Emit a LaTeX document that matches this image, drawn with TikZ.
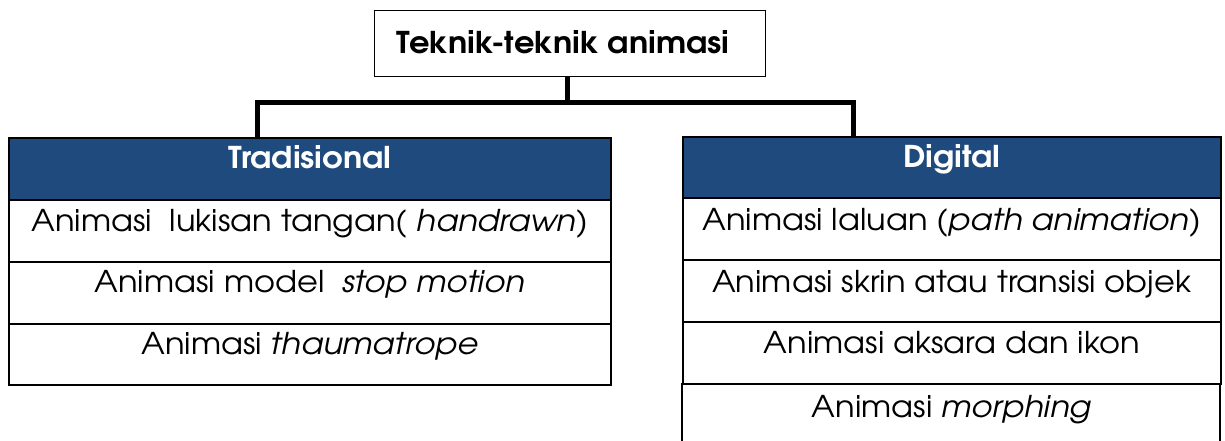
\documentclass[tikz,border=0pt]{standalone}
\usepackage{fontspec}
\setmainfont[FakeStretch=1.07]{TeX Gyre Adventor}
\definecolor{hdrblue}{HTML}{1F4A7D}
\begin{document}
\begin{tikzpicture}[x=1pt,y=-1pt,
  cell/.style={draw=black, line width=1.6pt, inner sep=0pt, anchor=north west},
  hdr/.style={cell, fill=hdrblue},
  hdrtxt/.style={text=white, font=\bfseries\fontsize{30}{30}\selectfont, anchor=base, inner sep=0pt},
  txt/.style={font=\fontsize{30}{30}\selectfont, anchor=base, inner sep=0pt},
  conn/.style={line width=5pt, draw=black}]
\useasboundingbox (0,0) rectangle (1225,441);
\fill[white] (0,0) rectangle (1225,441);
% top box
\node[draw=black, line width=1pt, minimum width=391pt, minimum height=66pt, inner sep=0pt, anchor=north west] (top) at (374,10) {};
\node[font=\bfseries\fontsize{30}{30}\selectfont, anchor=base, inner sep=0pt] (title) at (563,54) {Teknik-teknik animasi};
% left table
\node[hdr, minimum width=602pt, minimum height=62pt] (th) at (8,137) {};
\node[hdrtxt] (tht) at ([yshift=-31pt]th.north) {Tradisional};
\node[cell, minimum width=602pt, minimum height=62pt] (t1) at (8,199) {};
\node[cell, minimum width=602pt, minimum height=62pt] (t2) at (8,261) {};
\node[cell, minimum width=602pt, minimum height=61pt] (t3) at (8,323) {};
\node[txt] (t1t) at ([yshift=-32pt]t1.north) {Animasi\ \ lukisan tangan( \textit{handrawn)}};
\node[txt] (t2t) at ([yshift=-31pt]t2.north) {Animasi model\ \ \textit{stop motion}};
\node[txt] (t3t) at ([yshift=-31pt]t3.north) {Animasi \textit{thaumatrope}};
% right table
\node[hdr, minimum width=538pt, minimum height=61pt] (dh) at (682,136) {};
\node[hdrtxt] (dht) at ([yshift=-31pt]dh.north) {Digital};
\node[cell, minimum width=538pt, minimum height=62pt] (d1) at (682,197) {};
\node[cell, minimum width=538pt, minimum height=62pt] (d2) at (682,259) {};
\node[cell, minimum width=538pt, minimum height=62pt] (d3) at (682,321) {};
\coordinate (d4nw) at (682,383);
\coordinate (d4ne) at (1220,383);
\draw[line width=1.6pt] (d4nw) -- (d4nw |- 0,445) (d4ne) -- (d4ne |- 0,445);
\node[txt] (d1t) at ([yshift=-33pt]d1.north) {Animasi laluan (\textit{path animation)}};
\node[txt] (d2t) at ([yshift=-33pt]d2.north) {Animasi skrin atau transisi objek};
\node[txt] (d3t) at ([yshift=-32pt]d3.north) {Animasi aksara dan ikon};
\node[txt] (d4t) at ([yshift=-33pt]d3.south) {Animasi \textit{morphing}};
% connectors
\coordinate (jl) at (257,100);
\coordinate (jr) at (853,100);
\draw[conn] (top.south -| 567,0) -- (567,100);
\draw[conn] (th.north -| jl) -- ([yshift=-2.5pt]jl) -- ([yshift=-2.5pt]jr) -- (dh.north -| jr);
\end{tikzpicture}
\end{document}
